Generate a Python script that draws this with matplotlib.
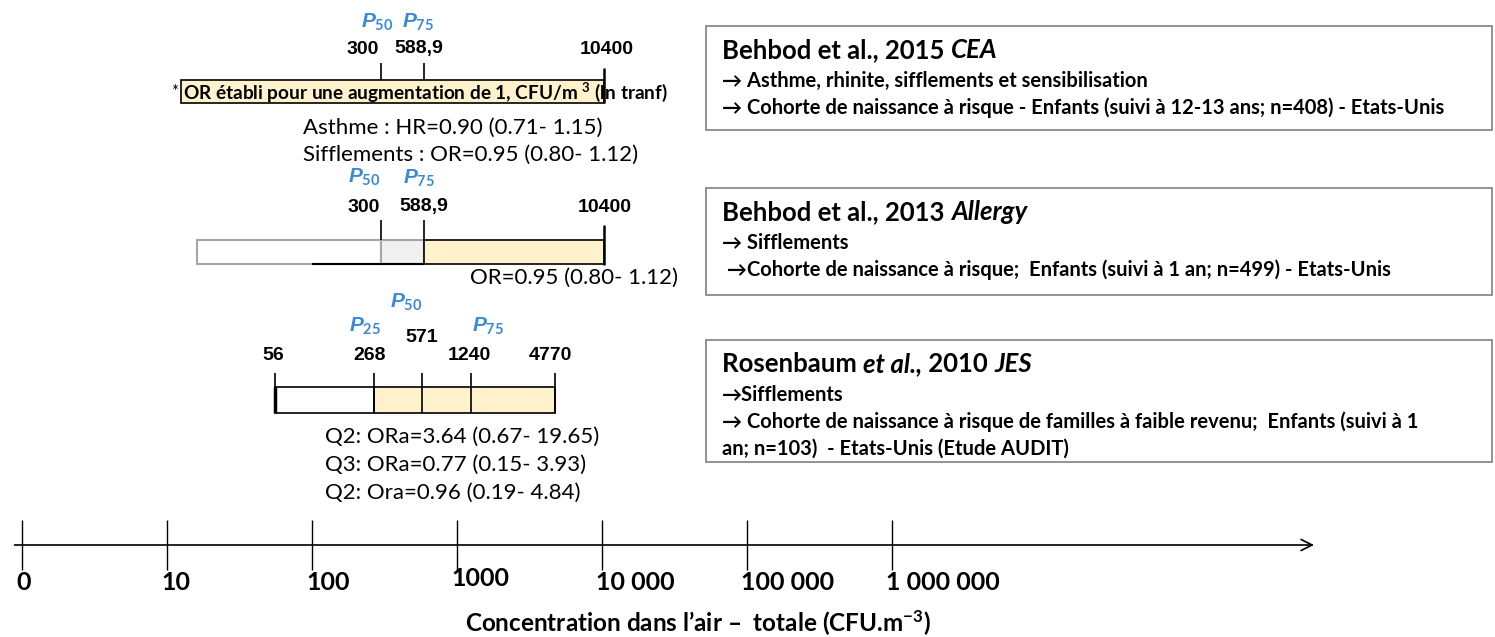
import numpy as np
import matplotlib
matplotlib.use('Agg')
import matplotlib.pyplot as plt
from matplotlib.patches import Rectangle

# --- data (concentrations in CFU/m3) ---
behbod2015_vals = [300, 588.9, 10400]
behbod2015_labels = ['300', '588,9', '10400']
behbod2015_pct = ['50', '75']
behbod2015_box_start = 12.5
behbod2015_results = ['Asthme : HR=0.90 (0.71- 1.15)',
                      'Sifflements : OR=0.95 (0.80- 1.12)']

behbod2013_vals = [300, 588.9, 10400]
behbod2013_labels = ['300', '588,9', '10400']
behbod2013_pct = ['50', '75']
behbod2013_bar_start = 16
behbod2013_line_start = 100
behbod2013_results = ['OR=0.95 (0.80- 1.12)']

rosenbaum_vals = [56, 268, 571, 1240, 4770]
rosenbaum_labels = ['56', '268', '571', '1240', '4770']
rosenbaum_pct = ['25', '50', '75']
rosenbaum_pct_vals = [268, 571, 1240]
rosenbaum_results = ['Q2: ORa=3.64 (0.67- 19.65)',
                     'Q3: ORa=0.77 (0.15- 3.93)',
                     'Q2: Ora=0.96 (0.19- 4.84)']

axis_ticks = [1, 10, 100, 1e3, 1e4, 1e5, 1e6]
axis_labels = ['0', '10', '100', '1000', '10 000', '100 000', '1 000 000']
axis_start = 0.85
axis_end = 8.5e8

studies = [
    ('Behbod et al., 2015 ', 'CEA', '', '',
     ['\u2192 Asthme, rhinite, sifflements et sensibilisation',
      '\u2192 Cohorte de naissance à risque - Enfants (suivi à 12-13 ans; n=408) - Etats-Unis']),
    ('Behbod et al., 2013 ', 'Allergy', '', '',
     ['\u2192 Sifflements',
      ' \u2192Cohorte de naissance à risque;  Enfants (suivi à 1 an; n=499) - Etats-Unis']),
    ('Rosenbaum ', 'et al.,', ' 2010 ', 'JES',
     ['\u2192Sifflements',
      '\u2192 Cohorte de naissance à risque de familles à faible revenu;  Enfants (suivi à 1',
      'an; n=103)  - Etats-Unis (Etude AUDIT)']),
]

BLUE = '#3a8ad4'
YELLOW = '#fff2cc'
CAL = ['Lato', 'DejaVu Sans']
NUMF = ['Liberation Sans', 'DejaVu Sans']

plt.rcParams['mathtext.fontset'] = 'custom'
plt.rcParams['mathtext.it'] = 'Liberation Sans:italic:bold'
plt.rcParams['mathtext.rm'] = 'Lato:bold'

W, H = 1495, 637
fig = plt.figure(figsize=(W / 100, H / 100), dpi=100)
ax = fig.add_axes([0, 0, 1, 1])
ax.set_xscale('log')
px_dec = 145.0
ax.set_xlim(10 ** (-22 / px_dec), 10 ** ((W - 22) / px_dec))
ax.set_ylim(H, 0)
ax.axis('off')


def pct_label(x, y, p, dx=0):
    ax.annotate(r'$\mathit{P_{%s}}$' % p, xy=(x, y), xytext=(dx, 0), textcoords='offset pixels',
                color=BLUE, fontsize=15, ha='center', va='center')


def num_label(x, y, s, dx=0):
    ax.annotate(s, xy=(x, y), xytext=(dx, 0), textcoords='offset pixels',
                fontsize=14, fontweight='bold', family=NUMF, ha='center', va='center')


# --- Behbod 2015 ---
ax.add_patch(Rectangle((behbod2015_box_start, 80), behbod2015_vals[-1] - behbod2015_box_start, 23,
                       facecolor=YELLOW, edgecolor='black', lw=1.2))
ax.vlines(behbod2015_vals[:2], 63, 80, color='black', lw=1.2)
ax.vlines(behbod2015_vals[2], 68, 103, color='black', lw=1.8)
for v, p, dx in zip(behbod2015_vals[:2], behbod2015_pct, [-4, -6]):
    pct_label(v, 22, p, dx)
for v, s, dx in zip(behbod2015_vals, behbod2015_labels, [-18, -5, 2]):
    num_label(v, 49, s, dx)
ax.text(behbod2015_box_start * 0.95, 92, '*', fontsize=12, ha='right', va='center', family=CAL)
ax.text(behbod2015_box_start * 1.03, 92, 'OR établi pour une augmentation de 1, CFU/m $^{3}$ (ln tranf)',
        fontsize=13.7, fontweight='bold', family=CAL, ha='left', va='center')
for i, s in enumerate(behbod2015_results):
    ax.text(87, 128 + 27 * i, s, fontsize=16, family=CAL, ha='left', va='center')

# --- Behbod 2013 ---
v0, v1, v2 = behbod2013_vals
ax.add_patch(Rectangle((behbod2013_bar_start, 240), v0 - behbod2013_bar_start, 24,
                       facecolor='white', edgecolor='#a6a6a6', lw=1.5))
ax.add_patch(Rectangle((v0, 240), v1 - v0, 24, facecolor='#f0f0f0', edgecolor='#a6a6a6', lw=1.5))
ax.add_patch(Rectangle((v1, 240), v2 - v1, 24, facecolor=YELLOW, edgecolor='black', lw=1.2))
ax.hlines(264, behbod2013_line_start, v1, color='black', lw=1.5)
ax.vlines([v0, v1], 220, 240, color='black', lw=1.2)
ax.vlines(v2, 225, 265, color='black', lw=1.8)
pct_label(v0, 177, behbod2013_pct[0], -17)
pct_label(v1, 178, behbod2013_pct[1], -5)
for v, s, dx in zip(behbod2013_vals, behbod2013_labels, [-17, 0, 0]):
    num_label(v, 207, s, dx)
ax.text(1230, 278, behbod2013_results[0], fontsize=16, family=CAL, ha='left', va='center')

# --- Rosenbaum 2010 ---
r = rosenbaum_vals
ax.add_patch(Rectangle((r[0], 387), r[1] - r[0], 26, facecolor='white', edgecolor='black', lw=1.2))
ax.add_patch(Rectangle((r[1], 387), r[-1] - r[1], 26, facecolor=YELLOW, edgecolor='black', lw=1.2))
ax.vlines(r, 373, 413, color='black', lw=1.2)
ax.vlines(r[0], 387, 413, color='black', lw=2.5)
pct_y = {'25': 326, '50': 302, '75': 326}
for v, p, dx in zip(rosenbaum_pct_vals, rosenbaum_pct, [-9, -15, 18]):
    pct_label(v, pct_y[p], p, dx)
for v, s, dx in zip(r, rosenbaum_labels, [-2, -4, 0, -1, -5]):
    num_label(v, 338 if s == '571' else 356, s, dx)
for i, s in enumerate(rosenbaum_results):
    ax.text(123, 437 + 28 * i, s, fontsize=16, family=CAL, ha='left', va='center')

# --- right-hand boxes ---
box_y = [(26, 130), (188, 295), (340, 462)]
bx0, bx1 = 706, 1492
to_data = ax.transData.inverted()
for (t1, t2, t3, t4, lines), (y0, y1) in zip(studies, box_y):
    xa = to_data.transform((bx0, 0))[0]
    xb = to_data.transform((bx1, 0))[0]
    ax.add_patch(Rectangle((xa, y0), xb - xa, y1 - y0, facecolor='white',
                           edgecolor='#808080', lw=1.2))
    tx = to_data.transform((bx0 + 16, 0))[0]
    t = ax.text(tx, y0 + 24, t1, fontsize=18.5, fontweight='bold', family=CAL, va='center')
    t = ax.annotate(t2, xycoords=t, xy=(1, 0), va='bottom', fontsize=18.5, fontweight='bold',
                    style='italic', family=CAL)
    if t3:
        t = ax.annotate(t3, xycoords=t, xy=(1, 0), va='bottom', fontsize=18.5, fontweight='bold',
                        family=CAL)
    if t4:
        ax.annotate(t4, xycoords=t, xy=(1, 0), va='bottom', fontsize=18.5, fontweight='bold',
                    style='italic', family=CAL)
    for j, line in enumerate(lines):
        ax.text(tx, y0 + 55 + 27 * j, line, fontsize=14.5, fontweight='bold', family=CAL,
                va='center')

# --- concentration axis ---
ax.annotate('', xy=(axis_end, 545), xytext=(axis_start, 545),
            arrowprops=dict(arrowstyle='->', lw=1.2, color='black', mutation_scale=20))
ax.vlines(axis_ticks, 520, 570, color='black', lw=1)
for v, s in zip(axis_ticks, axis_labels):
    ax.annotate(s, xy=(v, 578 if s == '1000' else 582), xytext=(-6, 0), textcoords='offset pixels',
                fontsize=18, fontweight='bold', family=CAL, ha='left', va='center')
ax.text(698 / W, 1 - 623 / H, 'Concentration dans l\u2019air \u2013  totale (CFU.m$^{-3}$)',
        transform=ax.transAxes, fontsize=17.5, fontweight='bold', family=CAL,
        ha='center', va='center')

fig.savefig('out.png', dpi=100)
